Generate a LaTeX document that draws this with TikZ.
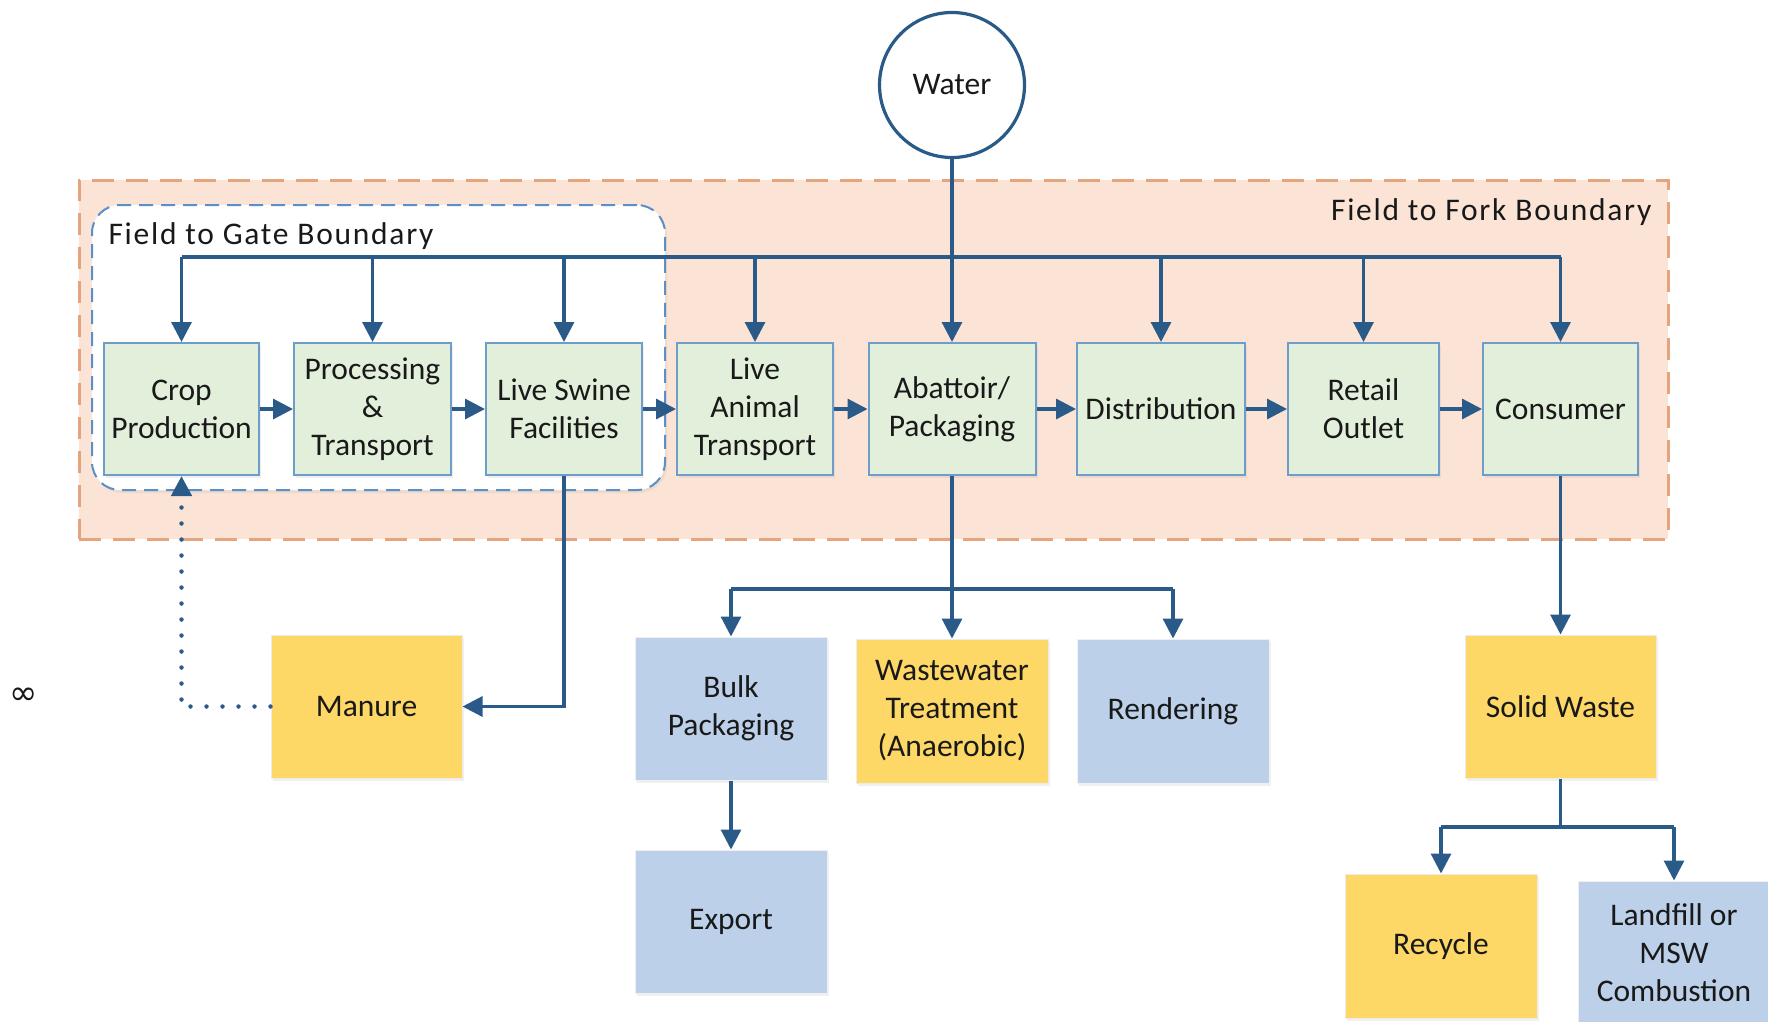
\documentclass[tikz,border=0pt]{standalone}
\usepackage{fontspec}
\setmainfont{Carlito}
\newfontfamily\dejavu{DejaVu Sans}
\newfontfamily\spaced[LetterSpace=5.5]{Carlito}
\usetikzlibrary{arrows.meta,shadows}
\definecolor{arr}{HTML}{2A5A88}
\definecolor{gfill}{HTML}{E2EFDA}
\definecolor{gborder}{HTML}{6F9DC9}
\definecolor{ofill}{HTML}{FBE4D5}
\definecolor{oborder}{HTML}{E3A47E}
\definecolor{yfill}{HTML}{FDD866}
\definecolor{bfill}{HTML}{BCD0E9}
\definecolor{gateb}{HTML}{5B8FC7}
\begin{document}
\begin{tikzpicture}[x=1pt,y=-1pt,
  every node/.style={font=\fontsize{31.5}{38}\selectfont, text=black!90},
  gbox/.style={draw=gborder, line width=2pt, fill=gfill, minimum height=132pt, inner sep=0pt, align=center,
    drop shadow={opacity=0.12, shadow xshift=2pt, shadow yshift=-3pt}},
  ybox/.style={fill=yfill, draw=black!8, line width=1pt, minimum width=191pt, minimum height=143pt, inner sep=0pt, align=center,
    drop shadow={opacity=0.12, shadow xshift=2pt, shadow yshift=-3pt}},
  bbox/.style={fill=bfill, draw=black!6, line width=1pt, minimum width=192pt, minimum height=143pt, inner sep=0pt, align=center,
    drop shadow={opacity=0.12, shadow xshift=2pt, shadow yshift=-3pt}},
  conn/.style={draw=arr, line width=3.2pt},
  arrow/.style={conn, -{Triangle[width=20pt,length=20pt]}},
  dotline/.style={draw=arr, line width=4.5pt, line cap=round, dash pattern=on 0pt off 16pt,
    -{Triangle[width=20pt,length=20pt]}},
  lbl/.style={font=\spaced\fontsize{31.5}{38}\selectfont},
]
\useasboundingbox (0,0) rectangle (1768,1021);

% boundaries
\node[draw=oborder, fill=ofill, line width=3pt, dash pattern=on 22pt off 12pt,
  minimum width=1589pt, minimum height=359pt, inner sep=0pt] (fork) at (873.5,359.5) {};
\node[lbl, anchor=east] (forklbl) at (1655,212) {Field to Fork Boundary};
\node[draw=gateb, fill=white, line width=2pt, dash pattern=on 14pt off 8pt, rounded corners=28pt,
  minimum width=573pt, minimum height=285pt, inner sep=0pt,
  drop shadow={opacity=0.1, shadow xshift=2pt, shadow yshift=-3pt}] (gate) at (378.5,347.5) {};
\node[lbl, anchor=west] (gatelbl) at (105,236) {Field to Gate Boundary};

% water
\node[circle, draw=arr, line width=3.2pt, fill=white, minimum size=145pt, inner sep=0pt] (water) at (952,85) {Water};

% main chain
\node[gbox, minimum width=155pt] (crop) at (181.5,409) {Crop\\Production};
\node[gbox, minimum width=157pt] (proc) at (372.5,409) {Processing\\\&\\Transport};
\node[gbox, minimum width=156pt] (swine) at (564,409) {Live Swine\\Facilities};
\node[gbox, minimum width=156pt] (animal) at (755,409) {Live\\Animal\\Transport};
\node[gbox, minimum width=167pt] (abat) at (952,409) {Abattoir/\\Packaging};
\node[gbox, minimum width=168pt] (dist) at (1161,409) {Distribution};
\node[gbox, minimum width=151pt] (retail) at (1363.5,409) {Retail\\Outlet};
\node[gbox, minimum width=155pt] (cons) at (1560.5,409) {Consumer};

% lower boxes
\node[ybox] (manure) at (366.5,706.5) {Manure};
\node[bbox] (bulk) at (731,708.5) {Bulk\\Packaging};
\node[ybox, minimum width=192pt, minimum height=144pt] (wwt) at (952,711) {Wastewater\\Treatment\\(Anaerobic)};
\node[bbox, minimum height=144pt] (rend) at (1173,711) {Rendering};
\node[bbox] (export) at (731,921.5) {Export};
\node[ybox] (solid) at (1560.5,706.5) {Solid Waste};
\node[ybox, minimum width=192pt, minimum height=144pt] (recycle) at (1441,946) {Recycle};
\node[bbox, minimum height=144pt] (landfill) at (1674,953) {Landfill or\\MSW\\Combustion};

\node (inf) at (24,696) {\dejavu\fontsize{34}{38}\selectfont ∞};

% water bus
\coordinate (bus) at (0,257);
\draw[conn] (crop |- bus) -- (cons |- bus);
\foreach \n in {crop,proc,swine,animal,dist,retail,cons}
  \draw[arrow] (\n |- bus) -- (\n.north);
\draw[arrow] (water.south) -- (abat.north);

% chain arrows
\draw[arrow] (crop.east) -- (proc.west);
\draw[arrow] (proc.east) -- (swine.west);
\draw[arrow] (swine.east) -- (animal.west);
\draw[arrow] (animal.east) -- (abat.west);
\draw[arrow] (abat.east) -- (dist.west);
\draw[arrow] (dist.east) -- (retail.west);
\draw[arrow] (retail.east) -- (cons.west);

% manure loop
\draw[arrow] (swine.south) |- (manure.east);
\draw[dotline] (manure.west) -| (crop.south);

% abattoir outputs
\coordinate (br1) at (0,589);
\draw[arrow] (abat.south) -- (wwt.north);
\draw[conn] (bulk.north |- br1) -- (rend.north |- br1);
\draw[arrow] (bulk.north |- br1) -- (bulk.north);
\draw[arrow] (rend.north |- br1) -- (rend.north);
\draw[arrow] (bulk.south) -- (export.north);

% consumer outputs
\coordinate (br2) at (0,827);
\draw[arrow] (cons.south) -- (solid.north);
\draw[conn] (solid.south) -- (solid.south |- br2);
\draw[conn] (recycle.north |- br2) -- (landfill.north |- br2);
\draw[arrow] (recycle.north |- br2) -- (recycle.north);
\draw[arrow] (landfill.north |- br2) -- (landfill.north);
\end{tikzpicture}
\end{document}
